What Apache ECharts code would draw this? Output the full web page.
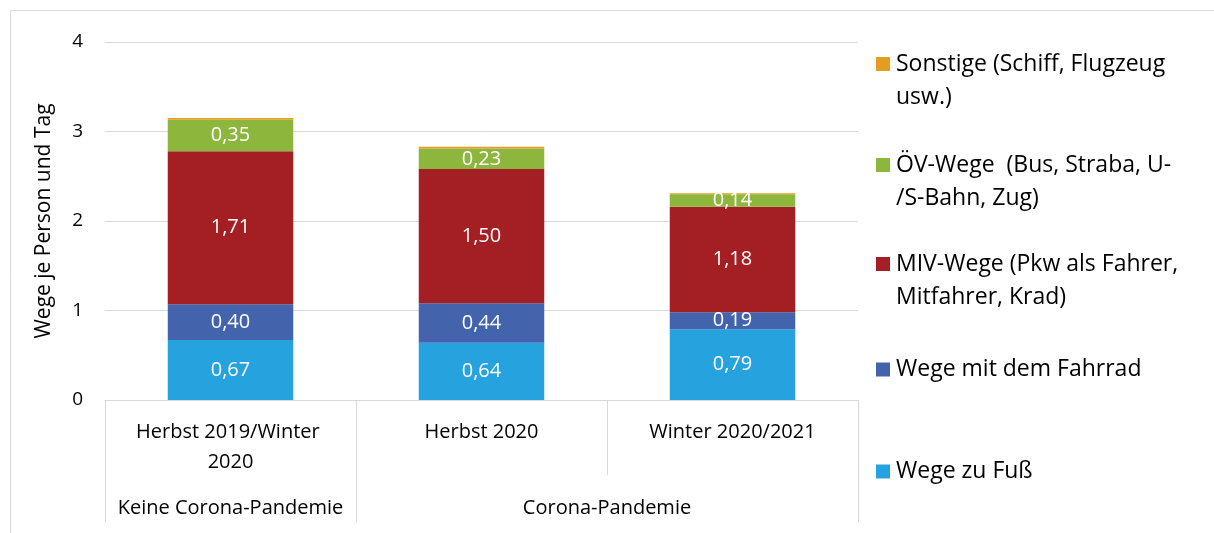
<!DOCTYPE html>
<html><head><meta charset="utf-8">
<script src="https://cdn.jsdelivr.net/npm/echarts@6/dist/echarts.min.js"></script>
<style>html,body{margin:0;padding:0;background:#fff}#c{width:1214px;height:533px}</style>
</head><body><div id="c"></div>
<script>
const categories = ['Herbst 2019/Winter 2020', 'Herbst 2020', 'Winter 2020/2021'];
const groups = ['Keine Corona-Pandemie', 'Corona-Pandemie'];
const yTicks = [0, 1, 2, 3, 4];
const seriesNames = ['Wege zu Fuß', 'Wege mit dem Fahrrad', 'MIV-Wege (Pkw als Fahrer, Mitfahrer, Krad)', 'ÖV-Wege  (Bus, Straba, U-/S-Bahn, Zug)', 'Sonstige (Schiff, Flugzeug usw.)'];
const legendLines = [['Wege zu Fuß'], ['Wege mit dem Fahrrad'], ['MIV-Wege (Pkw als Fahrer,', 'Mitfahrer, Krad)'], ['ÖV-Wege  (Bus, Straba, U-', '/S-Bahn, Zug)'], ['Sonstige (Schiff, Flugzeug', 'usw.)']];
const fuss = [0.67, 0.64, 0.79];
const fahrrad = [0.40, 0.44, 0.19];
const miv = [1.71, 1.50, 1.18];
const oev = [0.35, 0.23, 0.14];
const sonstige = [0.02, 0.02, 0.01];
const colors = ['#26A2DF', '#4364AC', '#A31F24', '#8DB63C', '#E39E21'];

const values = [fuss, fahrrad, miv, oev, sonstige];
const FONT = 'Open Sans';
const fmt = v => v.toFixed(2).replace('.', ',');
const series = values.map((arr, i) => ({
  name: seriesNames[i], type: 'bar', stack: 'a', barWidth: '50%',
  xAxisIndex: 0, yAxisIndex: 0,
  itemStyle: { color: colors[i] },
  data: arr,
  label: { show: i < 4, position: 'inside', color: '#fff', fontFamily: FONT, fontSize: 20,
    formatter: p => fmt(p.value) }
}));
// legend icon centers (y)
const legendTops = [470, 368, 262, 163, 62];
const LH = 33;
const legends = seriesNames.map((n, i) => {
  const lines = legendLines[i];
  const two = lines.length > 1;
  return {
    show: true, orient: 'vertical', left: 876, padding: 0,
    top: two ? legendTops[i] - 1.5 * LH + 2 : legendTops[i] - LH / 2 + 1.5,
    itemWidth: 14, itemHeight: 14, itemGap: 0, selectedMode: false,
    data: [{ name: n, icon: 'rect' }],
    formatter: () => (two ? ' \n' : '') + lines.join('\n'),
    textStyle: { fontFamily: FONT, fontSize: 23, color: '#000', lineHeight: LH, padding: [0, 0, 0, 1] }
  };
});

const chart = echarts.init(document.getElementById('c'));
chart.setOption({
  animation: false,
  backgroundColor: '#fff',
  graphic: [{ type: 'rect', shape: { x: 10.5, y: 10.5, width: 1230, height: 560 }, style: { fill: 'none', stroke: '#d9d9d9', lineWidth: 1 }, silent: true }],
  legend: legends,
  grid: { left: 105, right: 356, top: 42, bottom: 133, containLabel: false },
  xAxis: [
    { type: 'category', data: categories, position: 'bottom',
      axisLine: { show: true, lineStyle: { color: '#d9d9d9', width: 1 } },
      axisTick: { show: true, length: 75, lineStyle: { color: '#d9d9d9' } },
      axisLabel: { fontFamily: FONT, fontSize: 20, color: '#000', margin: 17, lineHeight: 30,
        width: 215, overflow: 'break', interval: 0 } },
    { type: 'value', min: 0, max: 3, position: 'bottom', offset: 0,
      axisLine: { show: false }, splitLine: { show: false },
      axisTick: { show: true, length: 122, customValues: [0, 1, 3], lineStyle: { color: '#d9d9d9' } },
      axisLabel: { fontFamily: FONT, fontSize: 20, color: '#000', margin: 98, customValues: [0.5, 2],
        formatter: v => (v === 0.5 ? groups[0] : groups[1]) } }
  ],
  yAxis: { type: 'value', min: yTicks[0], max: yTicks[yTicks.length - 1], interval: 1,
    name: 'Wege je Person und Tag', nameLocation: 'middle', nameGap: 50, nameRotate: 90,
    nameTextStyle: { fontFamily: FONT, fontSize: 21, color: '#000' },
    axisLine: { show: false }, axisTick: { show: false },
    axisLabel: { fontFamily: FONT, fontSize: 19, color: '#000', margin: 22 },
    splitLine: { lineStyle: { color: '#d9d9d9', width: 1 } } },
  series: series
});
</script></body></html>
